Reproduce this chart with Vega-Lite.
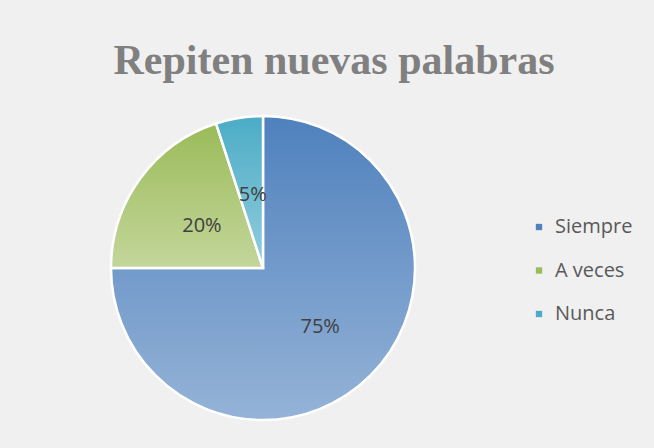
{
  "$schema": "https://vega.github.io/schema/vega-lite/v6.json",
  "width": 336,
  "height": 336,
  "autosize": {"type": "none"},
  "padding": {"left": 95, "top": 100, "right": 223, "bottom": 12},
  "background": "#f0f0f0",
  "view": {"stroke": null},
  "title": {
    "text": "Repiten nuevas palabras",
    "font": "Liberation Serif",
    "fontSize": 42,
    "fontWeight": "bold",
    "color": "#808080",
    "anchor": "middle",
    "dx": 71,
    "offset": -16,
    "baseline": "alphabetic"
  },
  "data": {
    "values": [
      {"cat": "Siempre", "v": 75, "o": 1, "lab": "75%"},
      {"cat": "A veces", "v": 20, "o": 2, "lab": "20%"},
      {"cat": "Nunca", "v": 5, "o": 3, "lab": "5%"}
    ]
  },
  "encoding": {
    "theta": {"field": "v", "type": "quantitative", "stack": true},
    "order": {"field": "o", "type": "quantitative"}
  },
  "layer": [
    {
      "mark": {"type": "arc", "outerRadius": 152},
      "encoding": {
        "color": {
          "field": "cat",
          "type": "nominal",
          "sort": ["Siempre", "A veces", "Nunca"],
          "scale": {"domain": ["Siempre", "A veces", "Nunca"], "range": ["#4F81BD", "#9BBB59", "#4BACC6"]},
          "legend": {
            "title": null,
            "orient": "none",
            "legendX": 434,
            "legendY": 117,
            "symbolType": "square",
            "symbolSize": 40,
            "symbolStrokeWidth": 0,
            "labelFont": "Open Sans",
            "labelFontSize": 20,
            "labelColor": "#595959",
            "labelOffset": 6,
            "rowPadding": 23.5
          }
        }
      }
    },
    {
      "mark": {"type": "arc", "outerRadius": 152, "stroke": "white", "strokeWidth": 2.5},
      "encoding": {
        "fill": {
          "condition": [
            {"test": "datum.cat === 'Siempre'", "value": {"gradient": "linear", "x1": 0, "y1": 0, "x2": 0, "y2": 1, "stops": [{"offset": 0, "color": "#4F81BD"}, {"offset": 1, "color": "#95B3D7"}]}},
            {"test": "datum.cat === 'A veces'", "value": {"gradient": "linear", "x1": 0, "y1": 0, "x2": 0, "y2": 1, "stops": [{"offset": 0, "color": "#9BBB59"}, {"offset": 1, "color": "#C3D69B"}]}}
          ],
          "value": {"gradient": "linear", "x1": 0, "y1": 0, "x2": 0, "y2": 1, "stops": [{"offset": 0, "color": "#4BACC6"}, {"offset": 1, "color": "#93CDDD"}]}
        }
      }
    },
    {
      "mark": {"type": "text", "radius": 78, "dx": 2, "dy": 4, "font": "Open Sans", "fontSize": 20, "fill": "#404040"},
      "encoding": {"text": {"field": "lab", "type": "nominal"}}
    }
  ]
}
